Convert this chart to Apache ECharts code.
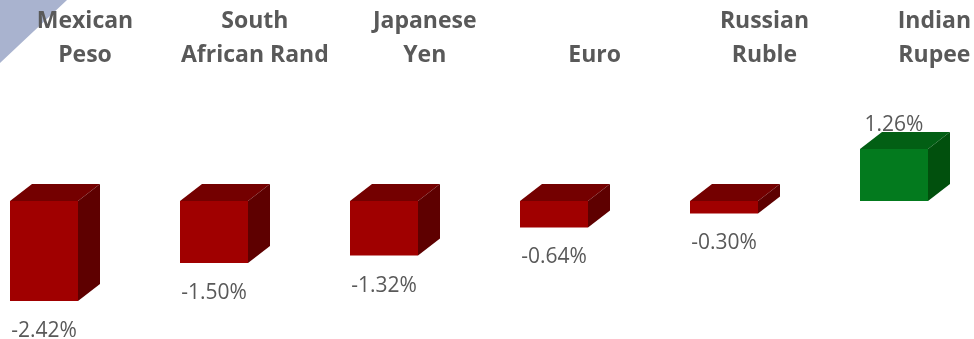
<!DOCTYPE html>
<html><head><meta charset="utf-8">
<script src="https://cdn.jsdelivr.net/npm/echarts@6/dist/echarts.min.js"></script>
<style>html,body{margin:0;padding:0;background:#fff}#c{width:974px;height:339px}</style>
</head><body><div id="c"></div>
<script>
var categories = ['Mexican\nPeso', 'South\nAfrican Rand', 'Japanese\nYen', 'Euro', 'Russian\nRuble', 'Indian\nRupee'];
var values = [-2.42, -1.50, -1.32, -0.64, -0.30, 1.26];

var chart = echarts.init(document.getElementById('c'));
var palette = {
  neg: {front: '#A00000', top: '#740000', side: '#5E0000'},
  pos: {front: '#037A1E', top: '#025F14', side: '#01500D'}
};
var band = 170;
chart.setOption({
  animation: false,
  grid: [
    {left: 44, right: 0, top: 0, bottom: 0},
    {left: 85, right: 0, top: 76, bottom: 0}
  ],
  xAxis: [
    {type: 'value', gridIndex: 0, min: 0, max: 930 / band, show: false},
    {type: 'value', gridIndex: 1, min: 0, max: 889 / band, interval: 1, position: 'top',
     splitLine: {show: false}, axisLine: {show: false}, axisTick: {show: false},
     axisLabel: {margin: 4, color: '#595959', fontWeight: 'bold', fontSize: 23,
       fontFamily: 'Open Sans', lineHeight: 34, showMaxLabel: false,
       formatter: function (v) { return Number.isInteger(v) && categories[v] ? categories[v] : ''; }}}
  ],
  yAxis: [
    {type: 'value', gridIndex: 0, min: -3.34, max: 4.87, show: false},
    {type: 'value', gridIndex: 1, show: false}
  ],
  graphic: [{type: 'polygon', shape: {points: [[0,0],[67,0],[0,63]]}, style: {fill: '#A9B3CF'}, z: 0}],
  series: [{
    type: 'custom', xAxisIndex: 0, yAxisIndex: 0,
    data: values.map(function (v, i) { return [i, v]; }),
    renderItem: function (params, api) {
      var idx = api.value(0), v = api.value(1);
      var p0 = api.coord([idx, 0]);
      var p1 = api.coord([idx, v]);
      var w = api.size([1, 0])[0] * 0.4;
      var dx = 22, dy = -17;
      var x = p0[0] - w / 2;
      var yTop = Math.min(p0[1], p1[1]), yBot = Math.max(p0[1], p1[1]);
      var c = v < 0 ? palette.neg : palette.pos;
      var label = v.toFixed(2) + '%';
      var ly = v < 0 ? yBot + 30 : yTop - 24;
      return {type: 'group', children: [
        {type: 'rect', shape: {x: x, y: yTop, width: w, height: yBot - yTop}, style: {fill: c.front}},
        {type: 'polygon', shape: {points: [[x, yTop], [x + dx, yTop + dy], [x + w + dx, yTop + dy], [x + w, yTop]]}, style: {fill: c.top}},
        {type: 'polygon', shape: {points: [[x + w, yTop], [x + w + dx, yTop + dy], [x + w + dx, yBot + dy], [x + w, yBot]]}, style: {fill: c.side}},
        {type: 'text', z2: 10, style: {text: label, x: p0[0], y: ly, align: 'center', verticalAlign: 'middle',
          fill: '#595959', font: '21px "Open Sans"'}}
      ]};
    }
  }]
});
</script></body></html>
